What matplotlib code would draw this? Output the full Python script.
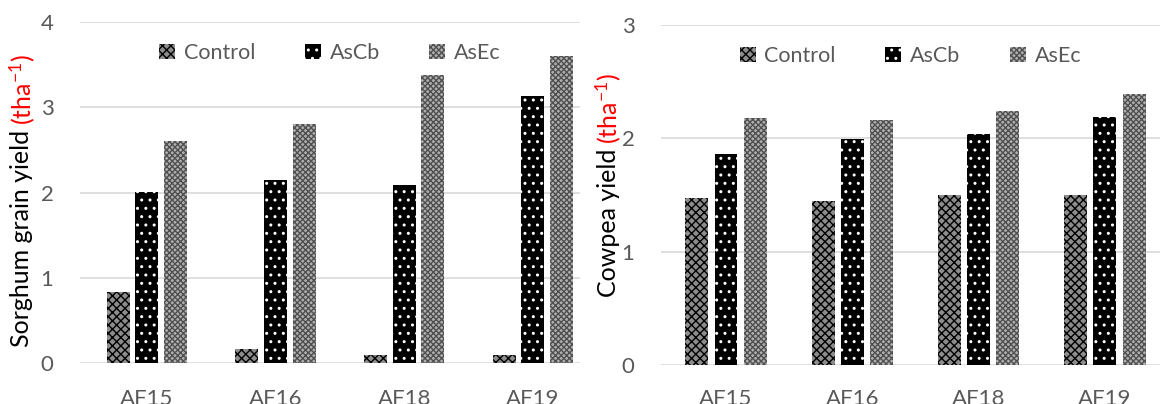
import numpy as np
import matplotlib
matplotlib.use("Agg")
import matplotlib.pyplot as plt

plt.rcParams['font.family'] = ['Lato', 'DejaVu Sans']
plt.rcParams['mathtext.fontset'] = 'custom'
plt.rcParams['mathtext.rm'] = 'Lato'
plt.rcParams['mathtext.it'] = 'Lato'
plt.rcParams['hatch.linewidth'] = 1.0

# data
sites = ['AF15', 'AF16', 'AF18', 'AF19']
treatments = ['Control', 'AsCb', 'AsEc']

sorghum_control = [0.83, 0.17, 0.09, 0.09]
sorghum_ascb = [2.01, 2.15, 2.09, 3.13]
sorghum_asec = [2.61, 2.80, 3.38, 3.60]

cowpea_control = [1.47, 1.45, 1.50, 1.50]
cowpea_ascb = [1.86, 1.99, 2.04, 2.19]
cowpea_asec = [2.18, 2.16, 2.24, 2.39]

styles = {
    'Control': dict(facecolor='#8c8c8c', edgecolor='black', hatch='xxxx'),
    'AsCb': dict(facecolor='black', edgecolor='white', hatch='..'),
    'AsEc': dict(facecolor='#b0b0b0', edgecolor='#505050', hatch='xxxxxx'),
}

grey = '#595959'
grid_col = '#d9d9d9'

fig = plt.figure(figsize=(11.62, 4.04), dpi=100)
ax1 = fig.add_axes([0.0688, 0.1015, 0.4303, 0.844])
ax2 = fig.add_axes([0.5688, 0.0965, 0.4294, 0.8416])


def draw_panel(ax, series, ymax, xlim, width, step, xpad):
    x = np.arange(len(sites))
    for i, (name, vals) in enumerate(zip(treatments, series)):
        ax.bar(x + (i - 1) * step, vals, width, label=name, linewidth=0,
               zorder=3, **styles[name])
    ax.set_xlim(*xlim)
    ax.set_ylim(0, ymax)
    ax.set_yticks(range(ymax + 1))
    ax.set_xticks(x)
    ax.set_xticklabels(sites)
    ax.grid(axis='y', color=grid_col, linewidth=1.2, zorder=0)
    for s in ax.spines.values():
        s.set_visible(False)
    ax.tick_params(length=0, labelsize=16, labelcolor=grey)
    ax.tick_params(axis='y', pad=19)
    ax.tick_params(axis='x', pad=xpad)
    leg = ax.legend(loc='upper center', bbox_to_anchor=(0.5, 0.995), ncol=3,
                    frameon=False, fontsize=15.5, handlelength=0.75,
                    handleheight=0.75, handletextpad=0.4, columnspacing=2.3)
    for t in leg.get_texts():
        t.set_color(grey)


draw_panel(ax1, [sorghum_control, sorghum_ascb, sorghum_asec], 4,
           (-0.52, 3.365), 0.179, 0.223, 18.5)
draw_panel(ax2, [cowpea_control, cowpea_ascb, cowpea_asec], 3,
           (-0.515, 3.435), 0.182, 0.23, 17.5)


def two_colour_label(xpix, ybottom, black_part):
    W, H = fig.get_size_inches() * fig.dpi
    t1 = fig.text(xpix / W, 1 - ybottom / H, black_part, rotation=90,
                  ha='center', va='bottom', fontsize=18, color='black')
    fig.canvas.draw()
    bb = t1.get_window_extent()
    fig.text(xpix / W, (bb.y1 + 5) / H, r'(tha$^{-1}$)', rotation=90,
             ha='center', va='bottom', fontsize=18, color='red')


two_colour_label(22, 347, 'Sorghum grain yield')
two_colour_label(608, 297, 'Cowpea yield')

fig.savefig('out.png', dpi=100)
